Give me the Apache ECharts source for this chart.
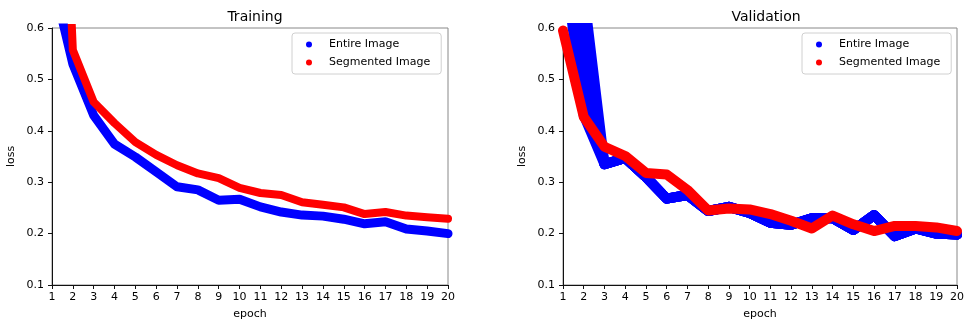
<!DOCTYPE html>
<html>
<head>
<meta charset="utf-8">
<script src="https://cdn.jsdelivr.net/npm/echarts@6/dist/echarts.min.js"></script>
<style>
html,body{margin:0;padding:0;background:#fff;}
#chart{width:967px;height:325px;}
</style>
</head>
<body>
<div id="chart"></div>
<script>
// ---- data ----
var epochs = [1,2,3,4,5,6,7,8,9,10,11,12,13,14,15,16,17,18,19,20];
var yTicks = [0.1,0.2,0.3,0.4,0.5,0.6];
var seriesNames = ['Entire Image','Segmented Image'];
var panelTitles = ['Training','Validation'];

var trainEntire = [0.70,0.53,0.43,0.374,0.349,0.32,0.291,0.285,0.265,0.267,0.252,0.242,0.236,0.234,0.228,0.219,0.223,0.209,0.205,0.200];
var trainSegmented = [1.50,0.557,0.456,0.415,0.378,0.353,0.333,0.317,0.308,0.289,0.279,0.275,0.261,0.256,0.251,0.238,0.242,0.235,0.232,0.229];

// validation "Entire Image" shows several overlapping runs in the early epochs
var valEntireRunA = [0.75,0.43,0.335,0.347,0.31,0.268,0.275,0.244,0.252,0.24,0.221,0.217,0.230,0.230,0.207,0.236,0.195,0.210,0.200,0.198];
var valEntireRunB = [0.80,0.49,0.335,0.347,0.31,0.268,0.275,0.244,0.252,0.24,0.221,0.217,0.230,0.230,0.207,0.236,0.195,0.210,0.200,0.198];
var valEntireRunC = [0.85,0.55,0.335,0.347,0.31,0.268,0.275,0.244,0.252,0.24,0.221,0.217,0.230,0.230,0.207,0.236,0.195,0.210,0.200,0.198];
var valEntireRunD = [0.90,0.61,0.335,0.347,0.31,0.268,0.275,0.244,0.252,0.24,0.221,0.217,0.230,0.230,0.207,0.236,0.195,0.210,0.200,0.198];
var valEntireRunE = [0.95,0.67,0.335,0.347,0.31,0.268,0.275,0.244,0.252,0.24,0.221,0.217,0.230,0.230,0.207,0.236,0.195,0.210,0.200,0.198];
var valSegmented = [0.595,0.427,0.369,0.351,0.318,0.315,0.285,0.245,0.249,0.247,0.238,0.225,0.210,0.235,0.218,0.205,0.215,0.215,0.212,0.205];

var colors = {'Entire Image':'#0000ff','Segmented Image':'#ff0000'};

function pairs(vals){ return epochs.map(function(e,i){ return [e, vals[i]]; }); }

var FONT = 'DejaVu Sans';
var TXT = '#000';

function lineSeries(name, vals, idx, width){
  return {
    type:'line', name:name, xAxisIndex:idx, yAxisIndex:idx,
    data:pairs(vals), symbol:'none', clip:true, silent:true,
    color:colors[name],
    itemStyle:{color:colors[name]},
    lineStyle:{color:colors[name], width:width, join:'round', cap:'round'}
  };
}

var grids = [
  {left:52, top:28, width:396, height:257},
  {left:563, top:28, width:397, height:257}
];

function xAxis(idx){
  return {
    type:'value', gridIndex:idx, min:1, max:20, interval:1,
    name:'epoch', nameLocation:'middle', nameGap:24,
    nameTextStyle:{fontFamily:FONT, fontSize:11, color:TXT},
    axisLine:{show:true, lineStyle:{color:'#111', width:1}},
    axisTick:{show:true, length:4, inside:false, lineStyle:{color:'#111'}},
    axisLabel:{fontFamily:FONT, fontSize:11, color:TXT, margin:7},
    splitLine:{show:false}
  };
}
function yAxis(idx){
  return {
    type:'value', gridIndex:idx, min:yTicks[0], max:yTicks[yTicks.length-1], interval:0.1,
    name:'loss', nameLocation:'middle', nameGap:35, nameRotate:90,
    nameTextStyle:{fontFamily:FONT, fontSize:11, color:TXT},
    axisLine:{show:true, lineStyle:{color:'#111', width:1}},
    axisTick:{show:true, length:4, inside:false, lineStyle:{color:'#111'}},
    axisLabel:{fontFamily:FONT, fontSize:11, color:TXT, margin:8,
      formatter:function(v){ return v.toFixed(1); }},
    splitLine:{show:false}
  };
}

function legend(left){
  return {
    orient:'vertical', left:left, top:33, icon:'circle',
    itemWidth:20, itemHeight:6, itemGap:7,
    padding:[6,11,6,14],
    borderColor:'#d0d0d0', borderWidth:1, borderRadius:3,
    backgroundColor:'#fff',
    textStyle:{fontFamily:FONT, fontSize:11, color:TXT, padding:[0,0,0,5]},
    selectedMode:false,
    data:seriesNames
  };
}

var chart = echarts.init(document.getElementById('chart'), null, {renderer:'canvas'});
chart.setOption({
  animation:false,
  backgroundColor:'#fff',
  title:[
    {text:panelTitles[0], left:250, top:5, textAlign:'center',
     textStyle:{fontFamily:FONT, fontSize:14, fontWeight:'normal', color:TXT}},
    {text:panelTitles[1], left:761, top:5, textAlign:'center',
     textStyle:{fontFamily:FONT, fontSize:14, fontWeight:'normal', color:TXT}}
  ],
  grid:grids.map(function(g){ return Object.assign({show:true, borderColor:'#888', borderWidth:1, backgroundColor:'#fff'}, g); }),
  xAxis:[xAxis(0), xAxis(1)],
  yAxis:[yAxis(0), yAxis(1)],
  legend:[legend(292), legend(802)],
  series:[
    lineSeries(seriesNames[0], trainEntire, 0, 9),
    lineSeries(seriesNames[1], trainSegmented, 0, 8),
    lineSeries(seriesNames[0], valEntireRunA, 1, 10),
    lineSeries(seriesNames[0], valEntireRunB, 1, 10),
    lineSeries(seriesNames[0], valEntireRunC, 1, 10),
    lineSeries(seriesNames[0], valEntireRunD, 1, 10),
    lineSeries(seriesNames[0], valEntireRunE, 1, 10),
    lineSeries(seriesNames[1], valSegmented, 1, 10)
  ]
});
</script>
</body>
</html>
